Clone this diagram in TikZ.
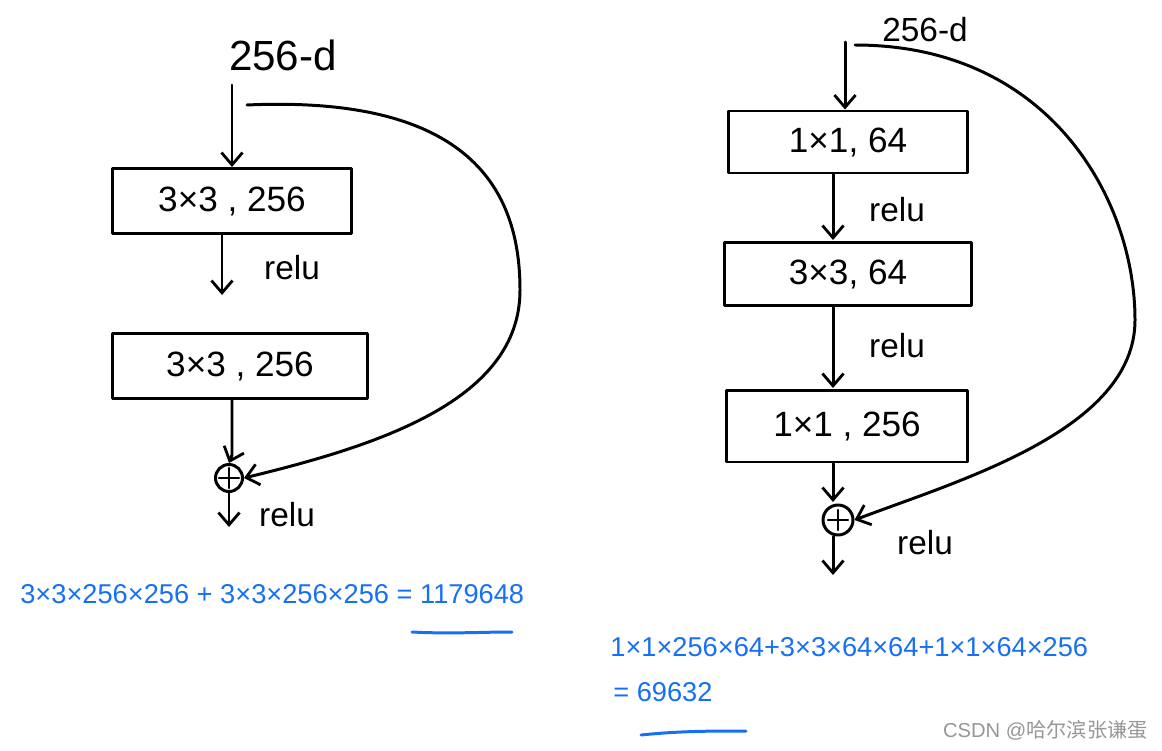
\documentclass[tikz,border=0pt]{standalone}
\usepackage{fontspec}
\setmainfont{Liberation Sans}
\newfontfamily\cjkfont{Noto Sans CJK SC}
\usetikzlibrary{arrows.meta}
\definecolor{inkblue}{RGB}{22,112,245}
\definecolor{wmgray}{RGB}{150,150,150}
\begin{document}
\begin{tikzpicture}[x=0.02cm,y=-0.02cm,
  ink/.style={line width=1.7pt, line cap=round, line join=round},
  arr/.style={ink, -{Straight Barb[length=7pt,width=12pt,line width=1.6pt]}},
  layerbox/.style={draw, ink, minimum height=1.3cm, inner sep=0pt, font=\fontsize{20}{24}\selectfont},
  lbl/.style={font=\fontsize{19}{22}\selectfont, inner sep=0pt},
  sumnode/.style={draw, ink, circle, minimum size=0.54cm, inner sep=0pt,
    path picture={\draw[line width=1.4pt] (path picture bounding box.center) ++(-0.2cm,0) -- ++(0.4cm,0);
                  \draw[line width=1.4pt] (path picture bounding box.center) ++(0,-0.2cm) -- ++(0,0.4cm);}},
  formula/.style={text=inkblue, font=\fontsize{15.5}{18}\selectfont, inner sep=0pt, anchor=west},
]
\useasboundingbox (0,0) rectangle (1162,750);

% ---------------- Left block ----------------
\node[lbl, font=\fontsize{24}{28}\selectfont] (lin) at (283,55) {256-d};
\coordinate (lstart) at (232,85);
\coordinate (lbranch) at (247,105);
\node[layerbox, minimum width=4.8cm] (lb1) at (232,201) {3×3 , 256};
\node[layerbox, minimum width=5.1cm] (lb2) at (240,366) {3×3 , 256};
\node[sumnode] (lsum) at (229,478) {};
\coordinate (lend) at (229,527);
\node[lbl] (lrelu1) at (292,268) {relu};
\node[lbl] (lrelu2) at (287,515) {relu};

\draw[arr] (lstart) -- (lstart |- lb1.north);
\draw[arr] (lb1.south -| 222,0) -- (222,295);
\draw[arr] (lb2.south -| 232,0) -- (232,455) -- (lsum.north);
\draw[arr] (lsum.south) -- (lend);
\draw[arr] (lbranch) .. controls (470,95) and (520,190) .. (520,290)
   .. controls (520,400) and (380,445) .. (lsum.east);

% ---------------- Right block ----------------
\node[lbl] (rin) at (925,30) {256-d};
\coordinate (rstart) at (845,42);
\coordinate (rbranch) at (855,45);
\node[layerbox, minimum width=4.8cm, minimum height=1.24cm] (rb1) at (848,142) {1×1, 64};
\node[layerbox, minimum width=4.94cm, minimum height=1.26cm] (rb2) at (848,274) {3×3, 64};
\node[layerbox, minimum width=4.82cm, minimum height=1.44cm] (rb3) at (847,426) {1×1 , 256};
\node[sumnode, minimum size=0.6cm] (rsum) at (838,520) {};
\coordinate (rend) at (833,575);
\node[lbl] (rrelu1) at (897,210) {relu};
\node[lbl] (rrelu2) at (897,346) {relu};
\node[lbl] (rrelu3) at (925,543) {relu};

\draw[arr] (rstart) -- (rstart |- rb1.north);
\draw[arr] (rb1.south -| 833,0) -- (833,240);
\draw[arr] (rb2.south -| 833,0) -- (833,388);
\draw[arr] (rb3.south -| 833,0) -- (833,502);
\draw[arr] (rsum.south -| 833,0) -- (rend);
\draw[arr] (rbranch) .. controls (1050,45) and (1135,200) .. (1135,320)
   .. controls (1135,430) and (960,480) .. (rsum.east);

% ---------------- Formulas ----------------
\node[formula] (f1) at (20,594) {3×3×256×256 + 3×3×256×256 = 1179648};
\coordinate (u1a) at (412,632);
\coordinate (u1b) at (512,632);
\draw[inkblue, ink] (u1a) .. controls (450,634) and (480,632) .. (u1b);

\node[formula] (f2) at (610,647) {1×1×256×64+3×3×64×64+1×1×64×256};
\node[formula] (f3) at (613,692) {= 69632};
\coordinate (u2a) at (641,735);
\coordinate (u2b) at (746,731);
\draw[inkblue, ink] (u2a) .. controls (680,731) and (710,731) .. (u2b);

% ---------------- Watermark ----------------
\node[text=wmgray, font=\fontsize{11.5}{14}\selectfont, anchor=east, inner sep=0pt] (wm) at (1148,730) {CSDN @{\cjkfont 哈尔滨张谦蛋}};
\end{tikzpicture}
\end{document}
